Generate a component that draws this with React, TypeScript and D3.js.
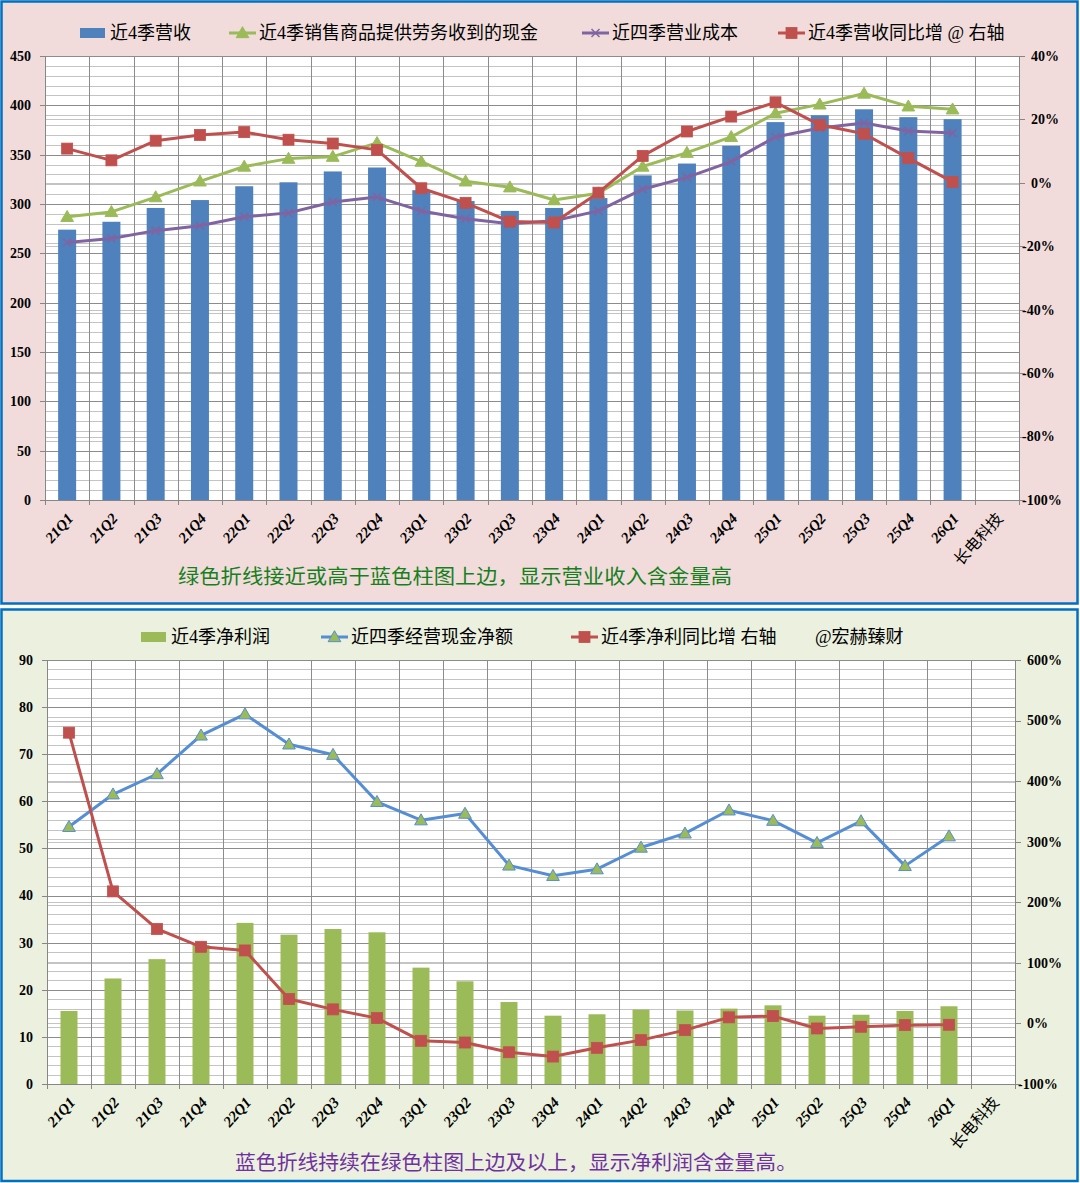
import React, { useEffect, useRef } from 'react';
import * as d3 from 'd3';

// categories
const quarters = [
  '21Q1', '21Q2', '21Q3', '21Q4', '22Q1', '22Q2', '22Q3', '22Q4',
  '23Q1', '23Q2', '23Q3', '23Q4', '24Q1', '24Q2', '24Q3', '24Q4',
  '25Q1', '25Q2', '25Q3', '25Q4', '26Q1',
];
const companyLabel = '长电科技';
const categories = [...quarters, companyLabel];

// top chart series
const revenue = [274, 282, 296, 304, 318, 322, 333, 337, 314, 303, 293, 296, 306, 329, 341, 359, 383, 390, 396, 388, 386];
const salesCash = [287, 292, 307, 323, 338, 346, 348, 362, 343, 323, 317, 304, 311, 338, 352, 368, 392, 401, 412, 399, 396];
const opCost = [261, 265, 273, 278, 287, 291, 302, 307, 293, 285, 280, 283, 293, 315, 327, 343, 368, 377, 382, 374, 372];
const revenueYoY = [10.8, 7.1, 13.3, 15.1, 16.0, 13.6, 12.4, 10.4, -1.7, -6.3, -12.2, -12.5, -3.1, 8.5, 16.2, 20.9, 25.4, 18.3, 15.5, 7.8, 0.3];

// bottom chart series
const netProfit = [15.5, 22.4, 26.5, 29.5, 34.2, 31.7, 32.9, 32.2, 24.7, 21.8, 17.4, 14.5, 14.8, 15.8, 15.6, 16.0, 16.7, 14.5, 14.7, 15.5, 16.5];
const opCashFlow = [54.6, 61.5, 65.8, 74.0, 78.5, 72.1, 69.9, 59.9, 56.0, 57.4, 46.4, 44.2, 45.6, 50.2, 53.2, 58.1, 55.9, 51.2, 55.8, 46.3, 52.6];
const profitYoY = [480, 218, 156, 126.5, 120.5, 40.3, 23.2, 8.8, -28.7, -31.5, -47.6, -54.7, -40.3, -27.6, -11.1, 10, 12.1, -8.3, -5.5, -2.8, -2.2];

// ticks
const topLeftTicks = [0, 50, 100, 150, 200, 250, 300, 350, 400, 450];
const topRightTicks = [-100, -80, -60, -40, -20, 0, 20, 40];
const bottomLeftTicks = [0, 10, 20, 30, 40, 50, 60, 70, 80, 90];
const bottomRightTicks = [-100, 0, 100, 200, 300, 400, 500, 600];

// legend / notes
const topLegend = ['近4季营收', '近4季销售商品提供劳务收到的现金', '近四季营业成本', '近4季营收同比增 @ 右轴'];
const bottomLegend = ['近4季净利润', '近四季经营现金净额', '近4季净利同比增 右轴', '@宏赫臻财'];
const topNote = '绿色折线接近或高于蓝色柱图上边，显示营业收入含金量高';
const bottomNote = '蓝色折线持续在绿色柱图上边及以上，显示净利润含金量高。';

const NUM_FONT = '"Liberation Serif", "Times New Roman", serif';
const CJK_FONT = '"Liberation Serif", "Noto Sans CJK SC", serif';

type Marker = 'square' | 'triangle' | 'cross';
type Sel = d3.Selection<SVGGElement, unknown, null, undefined>;

function drawMarker(g: Sel, kind: Marker, x: number, y: number, fill: string, stroke: string) {
  if (kind === 'square') {
    g.append('rect').attr('x', x - 5.5).attr('y', y - 5.5).attr('width', 11).attr('height', 11)
      .attr('fill', fill).attr('stroke', stroke).attr('stroke-width', 0.8);
  } else if (kind === 'triangle') {
    g.append('path')
      .attr('d', d3.symbol(d3.symbolTriangle, 70)())
      .attr('transform', `translate(${x},${y + 1})`)
      .attr('fill', fill).attr('stroke', stroke).attr('stroke-width', 1);
  } else {
    g.append('path')
      .attr('d', `M${x - 4},${y - 4}L${x + 4},${y + 4}M${x - 4},${y + 4}L${x + 4},${y - 4}`)
      .attr('stroke', stroke).attr('stroke-width', 1.5).attr('fill', 'none');
  }
}

interface PanelOpts {
  box: { x: number; y: number; w: number; h: number; bg: string };
  plot: { x0: number; x1: number; y0: number; y1: number };
  leftTicks: number[];
  rightTicks: number[];
  leftMinorStep: number;
  bars: { values: number[]; color: string; width: number };
  lines: { values: number[]; color: string; axis: 'left' | 'right'; marker: Marker; mFill: string; mStroke: string }[];
  legend: { label: string; x: number; kind: 'bar' | 'line'; idx: number }[];
  legendY: number;
  note: string;
  noteColor: string;
  noteX: number;
  noteY: number;
  noteLen: number;
}

function drawPanel(root: Sel, o: PanelOpts) {
  const g = root.append('g');
  g.append('rect')
    .attr('x', o.box.x).attr('y', o.box.y).attr('width', o.box.w).attr('height', o.box.h)
    .attr('fill', o.box.bg).attr('stroke', '#0070c0').attr('stroke-width', 2.5);

  const { x0, x1, y0, y1 } = o.plot;
  const x = d3.scaleBand().domain(categories).range([x0, x1]);
  const yL = d3.scaleLinear().domain(d3.extent(o.leftTicks) as [number, number]).range([y1, y0]);
  const yR = d3.scaleLinear().domain(d3.extent(o.rightTicks) as [number, number]).range([y1, y0]);

  g.append('rect').attr('x', x0).attr('y', y0).attr('width', x1 - x0).attr('height', y1 - y0).attr('fill', '#fff');

  // minor gridlines
  const lMax = yL.domain()[1];
  const minor = d3.range(0, lMax + 0.001, o.leftMinorStep);
  g.append('g').selectAll('line').data(minor).join('line')
    .attr('x1', x0).attr('x2', x1).attr('y1', (d) => Math.round(yL(d)) + 0.5).attr('y2', (d) => Math.round(yL(d)) + 0.5)
    .attr('stroke', '#c4c4c4').attr('stroke-width', 1);
  g.append('g').selectAll('line').data(o.rightTicks).join('line')
    .attr('x1', x0).attr('x2', x1).attr('y1', (d) => Math.round(yR(d)) + 0.5).attr('y2', (d) => Math.round(yR(d)) + 0.5)
    .attr('stroke', '#c4c4c4').attr('stroke-width', 1);
  // major gridlines
  g.append('g').selectAll('line').data(o.leftTicks).join('line')
    .attr('x1', x0).attr('x2', x1).attr('y1', (d) => Math.round(yL(d)) + 0.5).attr('y2', (d) => Math.round(yL(d)) + 0.5)
    .attr('stroke', '#8c8c8c').attr('stroke-width', 1);
  // vertical gridlines
  const bounds = categories.map((c) => x(c)!).concat([x1]);
  g.append('g').selectAll('line').data(bounds.slice(1)).join('line')
    .attr('x1', (d) => Math.round(d) + 0.5).attr('x2', (d) => Math.round(d) + 0.5).attr('y1', y0).attr('y2', y1)
    .attr('stroke', '#8c8c8c').attr('stroke-width', 1);

  // bars
  const bw = o.bars.width;
  g.append('g').selectAll('rect').data(o.bars.values).join('rect')
    .attr('x', (_, i) => x(quarters[i])! + x.bandwidth() / 2 - bw / 2)
    .attr('y', (d) => yL(d))
    .attr('width', bw)
    .attr('height', (d) => y1 - yL(d))
    .attr('fill', o.bars.color);

  // lines
  o.lines.forEach((ln) => {
    const ys = ln.axis === 'left' ? yL : yR;
    const line = d3.line<number>()
      .x((_, i) => x(quarters[i])! + x.bandwidth() / 2)
      .y((d) => ys(d));
    g.append('path').attr('d', line(ln.values)!).attr('fill', 'none')
      .attr('stroke', ln.color).attr('stroke-width', 3).attr('stroke-linejoin', 'round');
    const mg = g.append('g');
    ln.values.forEach((v, i) => drawMarker(mg, ln.marker, x(quarters[i])! + x.bandwidth() / 2, ys(v), ln.mFill, ln.mStroke));
  });

  // axes
  const axisColor = '#868686';
  g.append('line').attr('x1', x0 + 0.5).attr('x2', x0 + 0.5).attr('y1', y0).attr('y2', y1).attr('stroke', axisColor);
  g.append('line').attr('x1', x1 + 0.5).attr('x2', x1 + 0.5).attr('y1', y0).attr('y2', y1).attr('stroke', axisColor);
  g.append('line').attr('x1', x0 - 5).attr('x2', x1).attr('y1', y1 + 0.5).attr('y2', y1 + 0.5).attr('stroke', axisColor);
  g.append('g').selectAll('line').data([x0, ...bounds.slice(1)]).join('line')
    .attr('x1', (d) => Math.round(d) + 0.5).attr('x2', (d) => Math.round(d) + 0.5).attr('y1', y1).attr('y2', y1 + 5)
    .attr('stroke', axisColor);
  g.append('g').selectAll('line').data(o.leftTicks).join('line')
    .attr('x1', x0 - 5).attr('x2', x0).attr('y1', (d) => Math.round(yL(d)) + 0.5).attr('y2', (d) => Math.round(yL(d)) + 0.5)
    .attr('stroke', axisColor);
  g.append('g').selectAll('line').data(o.rightTicks).join('line')
    .attr('x1', x1).attr('x2', x1 + 6).attr('y1', (d) => Math.round(yR(d)) + 0.5).attr('y2', (d) => Math.round(yR(d)) + 0.5)
    .attr('stroke', axisColor);

  g.append('g').selectAll('text').data(o.leftTicks).join('text')
    .attr('x', x0 - 14).attr('y', (d) => yL(d)).attr('dy', '0.35em')
    .attr('text-anchor', 'end').attr('font-family', NUM_FONT).attr('font-weight', 'bold').attr('font-size', 14)
    .attr('fill', '#000').text((d) => d3.format('d')(d));
  g.append('g').selectAll('text').data(o.rightTicks).join('text')
    .attr('x', x1 + 12).attr('y', (d) => yR(d)).attr('dy', '0.35em')
    .attr('dx', (d) => (d < 0 ? -9 : 0))
    .attr('font-family', NUM_FONT).attr('font-weight', 'bold').attr('font-size', 14)
    .attr('fill', '#000').text((d) => `${d}%`);

  // category labels
  g.append('g').selectAll('text').data(categories).join('text')
    .attr('transform', (d) => `translate(${x(d)! + x.bandwidth() / 2 + 7},${y1 + 19}) rotate(-48)`)
    .attr('text-anchor', 'end')
    .attr('font-family', CJK_FONT)
    .attr('font-weight', (d) => (d === companyLabel ? 'normal' : 'bold'))
    .attr('font-style', (d) => (d === companyLabel ? 'normal' : 'italic'))
    .attr('font-size', (d) => (d === companyLabel ? 16 : 15))
    .attr('fill', '#000').text((d) => d);

  // legend
  const ly = o.legendY;
  o.legend.forEach((it) => {
    const lg = g.append('g');
    if (it.kind === 'bar') {
      lg.append('rect').attr('x', it.x).attr('y', ly - 5).attr('width', 25).attr('height', 10).attr('fill', o.bars.color);
    } else {
      const ln = o.lines[it.idx];
      if (ln) {
        lg.append('line').attr('x1', it.x).attr('x2', it.x + 27).attr('y1', ly).attr('y2', ly)
          .attr('stroke', ln.color).attr('stroke-width', 3);
        drawMarker(lg, ln.marker, it.x + 13.5, ly, ln.mFill, ln.mStroke);
      }
    }
    lg.append('text')
      .attr('x', it.kind === 'bar' || o.lines[it.idx] ? it.x + 30 : it.x)
      .attr('y', ly).attr('dy', '0.36em')
      .attr('font-family', CJK_FONT).attr('font-size', 18).attr('fill', '#000')
      .text(it.label);
  });

  // note
  g.append('text').attr('x', o.noteX).attr('y', o.noteY).attr('dy', '0.35em')
    .attr('font-family', CJK_FONT).attr('font-size', 20).attr('fill', o.noteColor)
    .attr('textLength', o.noteLen).attr('lengthAdjust', 'spacingAndGlyphs')
    .text(o.note);
}

const App: React.FC = () => {
  const svgRef = useRef<SVGSVGElement | null>(null);

  useEffect(() => {
    if (!svgRef.current) return;
    const svg = d3.select(svgRef.current);
    svg.selectAll('*').remove();
    const root = svg.append('g') as unknown as Sel;

    drawPanel(root, {
      box: { x: 1.5, y: 1.5, w: 1076, h: 602, bg: '#f2dcdb' },
      plot: { x0: 45, x1: 1019, y0: 56, y1: 500 },
      leftTicks: topLeftTicks,
      rightTicks: topRightTicks,
      leftMinorStep: 10,
      bars: { values: revenue, color: '#4f81bd', width: 18 },
      lines: [
        { values: salesCash, color: '#9bbb59', axis: 'left', marker: 'triangle', mFill: '#9bbb59', mStroke: '#9bbb59' },
        { values: opCost, color: '#8064a2', axis: 'left', marker: 'cross', mFill: 'none', mStroke: '#8064a2' },
        { values: revenueYoY, color: '#c0504d', axis: 'right', marker: 'square', mFill: '#c0504d', mStroke: '#c0504d' },
      ],
      legend: [
        { label: topLegend[0], x: 80, kind: 'bar', idx: -1 },
        { label: topLegend[1], x: 229, kind: 'line', idx: 0 },
        { label: topLegend[2], x: 582, kind: 'line', idx: 1 },
        { label: topLegend[3], x: 778, kind: 'line', idx: 2 },
      ],
      legendY: 33,
      note: topNote,
      noteColor: '#15801c',
      noteX: 178,
      noteY: 577,
      noteLen: 554,
    });

    drawPanel(root, {
      box: { x: 1.5, y: 609.5, w: 1076, h: 571.5, bg: '#ebf1de' },
      plot: { x0: 47, x1: 1015, y0: 660, y1: 1084 },
      leftTicks: bottomLeftTicks,
      rightTicks: bottomRightTicks,
      leftMinorStep: 2,
      bars: { values: netProfit, color: '#9bbb59', width: 17 },
      lines: [
        { values: opCashFlow, color: '#558ed5', axis: 'left', marker: 'triangle', mFill: '#9bbb59', mStroke: '#558ed5' },
        { values: profitYoY, color: '#c0504d', axis: 'right', marker: 'square', mFill: '#c0504d', mStroke: '#c0504d' },
      ],
      legend: [
        { label: bottomLegend[0], x: 141, kind: 'bar', idx: -1 },
        { label: bottomLegend[1], x: 321, kind: 'line', idx: 0 },
        { label: bottomLegend[2], x: 571, kind: 'line', idx: 1 },
        { label: bottomLegend[3], x: 815, kind: 'line', idx: 9 },
      ],
      legendY: 637,
      note: bottomNote,
      noteColor: '#7030a0',
      noteX: 235,
      noteY: 1163,
      noteLen: 562,
    });
  }, []);

  return (
    <div style={{ position: 'absolute', left: 0, top: 0, width: 1080, height: 1183 }}>
      <svg ref={svgRef} width={1080} height={1183} style={{ display: 'block' }} />
    </div>
  );
};

export default App;
